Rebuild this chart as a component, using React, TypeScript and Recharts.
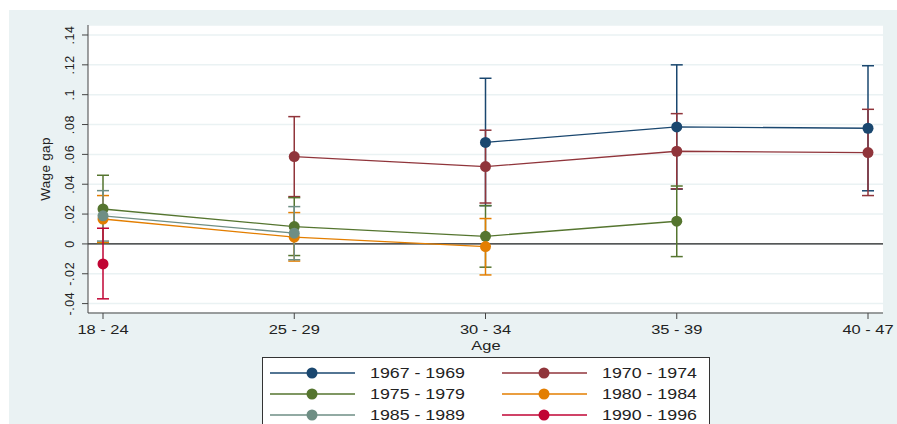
import React from 'react'
import { LineChart, Line, XAxis, YAxis, CartesianGrid, ReferenceLine, ErrorBar, Label } from 'recharts'

const ages = ['18 - 24', '25 - 29', '30 - 34', '35 - 39', '40 - 47']
const cohorts = ['1967 - 1969', '1970 - 1974', '1975 - 1979', '1980 - 1984', '1985 - 1989', '1990 - 1996']

// point estimates by cohort, one value per age group (null = not observed)
const est1967 = [null, null, 0.068, 0.0784, 0.0775]
const est1970 = [null, 0.0585, 0.0518, 0.0621, 0.0612]
const est1975 = [0.0234, 0.0116, 0.0051, 0.0152, null]
const est1980 = [0.0167, 0.0045, -0.0018, null, null]
const est1985 = [0.0188, 0.0072, null, null, null]
const est1990 = [-0.0134, null, null, null, null]

// confidence interval bounds
const lo1967 = [null, null, 0.0256, 0.0367, 0.0356]
const hi1967 = [null, null, 0.111, 0.12, 0.1194]
const lo1970 = [null, 0.0317, 0.0274, 0.0369, 0.0324]
const hi1970 = [null, 0.0853, 0.0762, 0.0873, 0.0902]
const lo1975 = [0.0008, -0.0078, -0.0156, -0.0085, null]
const hi1975 = [0.046, 0.031, 0.0257, 0.0388, null]
const lo1980 = [0.001, -0.0115, -0.0208, null, null]
const hi1980 = [0.0324, 0.021, 0.017, null, null]
const lo1985 = [0.0019, -0.0106, null, null, null]
const hi1985 = [0.0357, 0.025, null, null, null]
const lo1990 = [-0.0368, null, null, null, null]
const hi1990 = [0.0105, null, null, null, null]

const yTicks = [-0.04, -0.02, 0, 0.02, 0.04, 0.06, 0.08, 0.1, 0.12, 0.14]

const estimates = [est1967, est1970, est1975, est1980, est1985, est1990]
const lows = [lo1967, lo1970, lo1975, lo1980, lo1985, lo1990]
const highs = [hi1967, hi1970, hi1975, hi1980, hi1985, hi1990]

const colors = ['#1A476F', '#90353B', '#55752F', '#E37E00', '#6E8E84', '#C10534']

const FONT = '"Liberation Sans", Arial, sans-serif'
const STRETCH = 1.22 // the source image text is a bit wide

const data = ages.map((age, i) => {
  const row: Record<string, any> = { age }
  estimates.forEach((s, k) => {
    const v = s[i]
    row['s' + k] = v
    if (v != null) {
      row['e' + k] = [v - (lows[k][i] as number), (highs[k][i] as number) - v]
    }
  })
  return row
})

const fmt = (v: number) => {
  if (v === 0) return '0'
  const s = String(Math.round(v * 100) / 100)
  return s.replace('0.', '.')
}

const YTick = (props: any) => {
  const { y, payload } = props
  const bx = 74
  return (
    <text
      x={bx}
      y={y}
      transform={`rotate(-90, ${bx}, ${y})`}
      textAnchor="middle"
      fontSize={12.5}
      letterSpacing={0.6}
      fontFamily={FONT}
      fill="#222"
    >
      {fmt(payload.value)}
    </text>
  )
}

const XTick = (props: any) => {
  const { x, y, payload } = props
  return (
    <g transform={`translate(${x}, ${y + 13})`}>
      <text transform={`scale(${STRETCH}, 1)`} textAnchor="middle" fontSize={13.5} fontFamily={FONT} fill="#222">
        {payload.value}
      </text>
    </g>
  )
}

function LegendBox() {
  return (
    <div
      style={{
        position: 'absolute',
        left: 262,
        top: 357,
        width: 448,
        height: 80,
        background: '#fff',
        border: '1px solid #333',
        boxSizing: 'border-box',
      }}
    >
      {cohorts.map((c, k) => {
        const col = k % 2
        const row = Math.floor(k / 2)
        return (
          <div
            key={c}
            style={{
              position: 'absolute',
              left: col === 0 ? 7 : 239,
              top: 4 + row * 21,
              height: 21,
              display: 'flex',
              alignItems: 'center',
            }}
          >
            <svg width={86} height={14}>
              <line x1={0} y1={7} x2={85} y2={7} stroke={colors[k]} strokeWidth={1.5} />
              <circle cx={42} cy={7} r={5.5} fill={colors[k]} />
            </svg>
            <span
              style={{
                marginLeft: 14,
                fontFamily: FONT,
                fontSize: 14,
                color: '#222',
                display: 'inline-block',
                whiteSpace: 'nowrap',
                transform: `scaleX(${STRETCH + 0.05})`,
                transformOrigin: 'left center',
              }}
            >
              {c}
            </span>
          </div>
        )
      })}
    </div>
  )
}

export default function App() {
  return (
    <div style={{ position: 'absolute', left: 0, top: 0, width: 897, height: 424, background: '#fff', overflow: 'hidden' }}>
      <div style={{ position: 'absolute', left: 9, top: 10, right: 0, bottom: 0, background: '#EAF2F3' }} />
      <div style={{ position: 'absolute', left: 0, top: 0 }}>
        <LineChart width={897} height={424} data={data} margin={{ top: 25, right: 14, bottom: 81, left: 0 }}>
          <CartesianGrid horizontal vertical={false} fill="#fff" stroke="#EAF2F3" strokeWidth={1.5} />
          <XAxis
            dataKey="age"
            interval={0}
            padding={{ left: 15, right: 15 }}
            height={30}
            tickSize={6}
            axisLine={{ stroke: '#444' }}
            tickLine={{ stroke: '#444' }}
            tick={<XTick />}
          >
            <Label
              content={() => (
                <g transform="translate(486, 350)">
                  <text transform={`scale(${STRETCH}, 1)`} textAnchor="middle" fontSize={13.5} fontFamily={FONT} fill="#222">
                    Age
                  </text>
                </g>
              )}
            />
          </XAxis>
          <YAxis
            width={88}
            type="number"
            domain={[-0.0463, 0.1467]}
            ticks={yTicks}
            allowDataOverflow
            tickSize={6}
            axisLine={{ stroke: '#444' }}
            tickLine={{ stroke: '#444' }}
            tick={<YTick />}
          >
            <Label
              content={() => (
                <text x={50} y={169} transform="rotate(-90, 50, 169)" textAnchor="middle" fontSize={13.5} letterSpacing={0.3} fontFamily={FONT} fill="#222">
                  Wage gap
                </text>
              )}
            />
          </YAxis>
          <ReferenceLine y={0} stroke="#222" strokeWidth={1.2} />
          {cohorts.map((c, k) => (
            <Line
              key={c}
              dataKey={'s' + k}
              name={c}
              stroke={colors[k]}
              strokeWidth={1.3}
              dot={{ r: 5.5, fill: colors[k], stroke: colors[k], strokeWidth: 0 }}
              activeDot={false}
              connectNulls={false}
              isAnimationActive={false}
            >
              <ErrorBar dataKey={'e' + k} stroke={colors[k]} strokeWidth={1.5} width={6} isAnimationActive={false} />
            </Line>
          ))}
        </LineChart>
      </div>
      <LegendBox />
    </div>
  )
}
